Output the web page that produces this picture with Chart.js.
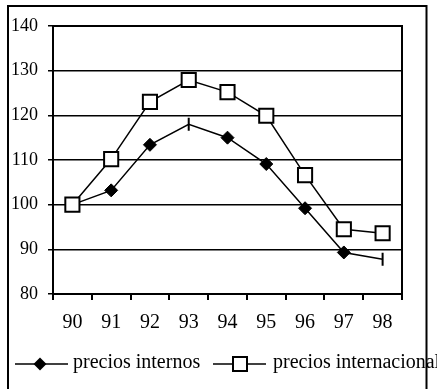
<!DOCTYPE html>
<html>
<head>
<meta charset="utf-8">
<script src="https://cdn.jsdelivr.net/npm/chart.js@4/dist/chart.umd.min.js"></script>
<style>
  html, body { margin: 0; padding: 0; background: #fff; }
  #c { display: block; }
</style>
</head>
<body>
<canvas id="c" width="437" height="389"></canvas>
<script>
// Índices de precios, 1990 = 100
const categories = ['90', '91', '92', '93', '94', '95', '96', '97', '98'];
const preciosInternos = [100, 103.2, 113.4, 118, 115, 109.1, 99.2, 89.3, 87.8];
const preciosInternacionales = [100, 110.2, 123, 127.9, 125.2, 119.9, 106.6, 94.5, 93.6];
const yTicks = [80, 90, 100, 110, 120, 130, 140];
const seriesNames = ['precios internos', 'precios internacionales'];

const FONT = 'Liberation Serif';

// Frame, plot border and legend drawn directly on the canvas
const decorations = {
  id: 'decorations',
  afterDraw(chart) {
    const ctx = chart.ctx;
    const a = chart.chartArea;
    ctx.save();
    ctx.strokeStyle = '#000';
    // plot-area box
    ctx.lineWidth = 2;
    ctx.strokeRect(a.left, a.top, a.right - a.left, a.bottom - a.top);
    // outer frame (bottom edge runs past the canvas)
    ctx.strokeRect(8, 6, 418.5, 420);

    // legend
    const ly = 364;
    ctx.lineWidth = 1.5;
    ctx.font = '20px "' + FONT + '"';
    ctx.fillStyle = '#000';
    ctx.textBaseline = 'middle';
    ctx.textAlign = 'left';

    // internos entry
    ctx.beginPath(); ctx.moveTo(15, ly); ctx.lineTo(68, ly); ctx.stroke();
    ctx.beginPath();
    ctx.moveTo(40, ly - 6.5); ctx.lineTo(46.5, ly); ctx.lineTo(40, ly + 6.5); ctx.lineTo(33.5, ly);
    ctx.closePath(); ctx.fill();
    ctx.fillText(seriesNames[0], 73, ly - 1);

    // internacionales entry
    ctx.beginPath(); ctx.moveTo(213, ly); ctx.lineTo(266, ly); ctx.stroke();
    ctx.lineWidth = 2;
    ctx.fillStyle = '#fff';
    ctx.fillRect(233, ly - 7, 14, 14);
    ctx.strokeRect(233, ly - 7, 14, 14);
    ctx.fillStyle = '#000';
    ctx.fillText(seriesNames[1], 273, ly - 1);
    ctx.restore();
  }
};

new Chart(document.getElementById('c'), {
  type: 'line',
  data: {
    labels: categories,
    datasets: [
      {
        label: seriesNames[1],
        data: preciosInternacionales,
        order: 0,
        borderColor: '#000',
        borderWidth: 1.5,
        backgroundColor: '#fff',
        pointStyle: 'rect',
        pointRadius: 10,
        pointBorderWidth: 2,
        pointBackgroundColor: '#fff',
        pointBorderColor: '#000',
        tension: 0
      },
      {
        label: seriesNames[0],
        data: preciosInternos,
        order: 1,
        borderColor: '#000',
        borderWidth: 1.5,
        backgroundColor: '#000',
        pointStyle: ['rectRot', 'rectRot', 'rectRot', 'line', 'rectRot', 'rectRot', 'rectRot', 'rectRot', 'line'],
        rotation: [0, 0, 0, 90, 0, 0, 0, 0, 90],
        pointRadius: 6.5,
        pointBorderWidth: [1, 1, 1, 2, 1, 1, 1, 1, 2],
        pointBackgroundColor: '#000',
        pointBorderColor: '#000',
        tension: 0
      }
    ]
  },
  options: {
    responsive: false,
    animation: false,
    events: [],
    layout: { padding: { left: 0, top: 26, right: 35, bottom: 0 } },
    plugins: { legend: { display: false }, tooltip: { enabled: false } },
    scales: {
      x: {
        type: 'category',
        offset: true,
        afterFit: s => { s.height = 95; },
        grid: { offset: true, drawOnChartArea: false, drawTicks: true, tickLength: 6, color: '#000', lineWidth: 2 },
        border: { display: true, color: '#000', width: 2 },
        ticks: { color: '#000', font: { family: FONT, size: 20 }, padding: 11, maxRotation: 0 }
      },
      y: {
        min: 80,
        max: 140,
        afterFit: s => { s.width = 53; },
        afterBuildTicks: s => { s.ticks = yTicks.map(v => ({ value: v })); },
        grid: { color: '#000', lineWidth: 1.5, drawTicks: true, tickLength: 5 },
        border: { display: true, color: '#000', width: 2 },
        ticks: { color: '#000', font: { family: FONT, size: 18 }, padding: 10 }
      }
    }
  },
  plugins: [decorations]
});
</script>
</body>
</html>
